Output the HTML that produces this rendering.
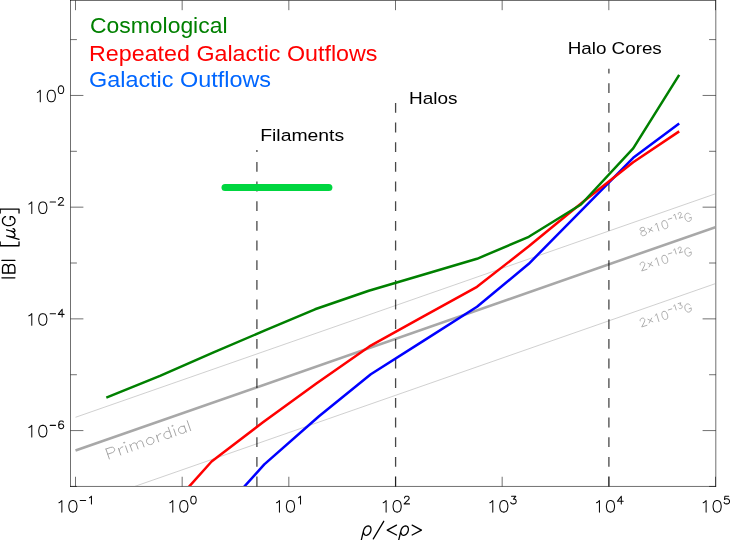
<!DOCTYPE html>
<html><head><meta charset="utf-8"><title>B vs density</title>
<style>
html,body{margin:0;padding:0;background:#fff;}
body{width:730px;height:540px;overflow:hidden;font-family:"Liberation Sans",sans-serif;}
svg{display:block;}
svg text{font-family:"Liberation Sans",sans-serif;}
</style></head><body>
<svg width="730" height="540" viewBox="0 0 730 540" style="will-change:transform">
<title>Magnetic field strength |B| versus overdensity for cosmological, repeated galactic outflow and galactic outflow models</title>
<rect x="0" y="0" width="730" height="540" fill="#fff"/>
<g stroke="#000" stroke-opacity="0.56" stroke-width="1" fill="none" shape-rendering="auto">
<path d="M70.50,0.00 V486.95"/>
<path d="M715.80,0.00 V486.95"/>
<path d="M70.00,0.50 H716.00"/>
<path d="M70.00,486.45 H716.00"/>
<path d="M75.50,486.45 v-9.7"/>
<path d="M75.50,0.50 v9.7"/>
<path d="M182.17,486.45 v-9.7"/>
<path d="M182.17,0.50 v9.7"/>
<path d="M288.84,486.45 v-9.7"/>
<path d="M288.84,0.50 v9.7"/>
<path d="M395.50,486.45 v-9.7"/>
<path d="M395.50,0.50 v9.7"/>
<path d="M502.17,486.45 v-9.7"/>
<path d="M502.17,0.50 v9.7"/>
<path d="M608.84,486.45 v-9.7"/>
<path d="M608.84,0.50 v9.7"/>
<path d="M715.50,486.45 v-9.7"/>
<path d="M715.50,0.50 v9.7"/>
<path d="M70.50,486.45 h6.40"/>
<path d="M715.80,486.45 h-6.70"/>
<path d="M70.50,430.58 h12.90"/>
<path d="M715.80,430.58 h-13.20"/>
<path d="M70.50,374.72 h6.40"/>
<path d="M715.80,374.72 h-6.70"/>
<path d="M70.50,318.87 h12.90"/>
<path d="M715.80,318.87 h-13.20"/>
<path d="M70.50,263.01 h6.40"/>
<path d="M715.80,263.01 h-6.70"/>
<path d="M70.50,207.16 h12.90"/>
<path d="M715.80,207.16 h-13.20"/>
<path d="M70.50,151.31 h6.40"/>
<path d="M715.80,151.31 h-6.70"/>
<path d="M70.50,95.45 h12.90"/>
<path d="M715.80,95.45 h-13.20"/>
<path d="M70.50,39.60 h6.40"/>
<path d="M715.80,39.60 h-6.70"/>
</g>
<path d="M58.96,502.78 L60.12,502.24 L61.86,500.59 L61.86,512.10 M72.30,500.59 L70.56,501.14 L69.40,502.78 L68.82,505.52 L68.82,507.17 L69.40,509.91 L70.56,511.55 L72.30,512.10 L73.46,512.10 L75.20,511.55 L76.36,509.91 L76.94,507.17 L76.94,505.52 L76.36,502.78 L75.20,501.14 L73.46,500.59 L72.30,500.59 M80.23,500.59 L85.64,500.59 M89.51,497.67 L90.28,497.30 L91.45,496.20 L91.45,503.88" fill="none" stroke="#0a0a0a" stroke-width="1.05" stroke-linecap="round" stroke-linejoin="round"/>
<path d="M169.88,502.78 L171.04,502.24 L172.78,500.59 L172.78,512.10 M183.22,500.59 L181.48,501.14 L180.32,502.78 L179.74,505.52 L179.74,507.17 L180.32,509.91 L181.48,511.55 L183.22,512.10 L184.38,512.10 L186.12,511.55 L187.28,509.91 L187.86,507.17 L187.86,505.52 L187.28,502.78 L186.12,501.14 L184.38,500.59 L183.22,500.59 M193.08,496.20 L191.92,496.57 L191.15,497.67 L190.76,499.49 L190.76,500.59 L191.15,502.42 L191.92,503.51 L193.08,503.88 L193.86,503.88 L195.02,503.51 L195.79,502.42 L196.18,500.59 L196.18,499.49 L195.79,497.67 L195.02,496.57 L193.86,496.20 L193.08,496.20" fill="none" stroke="#0a0a0a" stroke-width="1.05" stroke-linecap="round" stroke-linejoin="round"/>
<path d="M276.55,502.78 L277.71,502.24 L279.45,500.59 L279.45,512.10 M289.89,500.59 L288.15,501.14 L286.99,502.78 L286.41,505.52 L286.41,507.17 L286.99,509.91 L288.15,511.55 L289.89,512.10 L291.05,512.10 L292.79,511.55 L293.95,509.91 L294.53,507.17 L294.53,505.52 L293.95,502.78 L292.79,501.14 L291.05,500.59 L289.89,500.59 M298.59,497.67 L299.36,497.30 L300.52,496.20 L300.52,503.88" fill="none" stroke="#0a0a0a" stroke-width="1.05" stroke-linecap="round" stroke-linejoin="round"/>
<path d="M383.22,502.78 L384.38,502.24 L386.12,500.59 L386.12,512.10 M396.56,500.59 L394.82,501.14 L393.66,502.78 L393.08,505.52 L393.08,507.17 L393.66,509.91 L394.82,511.55 L396.56,512.10 L397.72,512.10 L399.46,511.55 L400.62,509.91 L401.20,507.17 L401.20,505.52 L400.62,502.78 L399.46,501.14 L397.72,500.59 L396.56,500.59 M404.48,498.03 L404.48,497.67 L404.87,496.94 L405.26,496.57 L406.03,496.20 L407.58,496.20 L408.35,496.57 L408.74,496.94 L409.13,497.67 L409.13,498.40 L408.74,499.13 L407.96,500.22 L404.10,503.88 L409.51,503.88" fill="none" stroke="#0a0a0a" stroke-width="1.05" stroke-linecap="round" stroke-linejoin="round"/>
<path d="M489.88,502.78 L491.04,502.24 L492.78,500.59 L492.78,512.10 M503.22,500.59 L501.48,501.14 L500.32,502.78 L499.74,505.52 L499.74,507.17 L500.32,509.91 L501.48,511.55 L503.22,512.10 L504.38,512.10 L506.12,511.55 L507.28,509.91 L507.86,507.17 L507.86,505.52 L507.28,502.78 L506.12,501.14 L504.38,500.59 L503.22,500.59 M511.54,496.20 L515.79,496.20 L513.47,499.13 L514.63,499.13 L515.41,499.49 L515.79,499.86 L516.18,500.96 L516.18,501.69 L515.79,502.78 L515.02,503.51 L513.86,503.88 L512.70,503.88 L511.54,503.51 L511.15,503.15 L510.76,502.42" fill="none" stroke="#0a0a0a" stroke-width="1.05" stroke-linecap="round" stroke-linejoin="round"/>
<path d="M596.55,502.78 L597.71,502.24 L599.45,500.59 L599.45,512.10 M609.89,500.59 L608.15,501.14 L606.99,502.78 L606.41,505.52 L606.41,507.17 L606.99,509.91 L608.15,511.55 L609.89,512.10 L611.05,512.10 L612.79,511.55 L613.95,509.91 L614.53,507.17 L614.53,505.52 L613.95,502.78 L612.79,501.14 L611.05,500.59 L609.89,500.59 M621.30,496.20 L617.43,501.32 L623.23,501.32 M621.30,496.20 L621.30,503.88" fill="none" stroke="#0a0a0a" stroke-width="1.05" stroke-linecap="round" stroke-linejoin="round"/>
<path d="M703.22,502.78 L704.38,502.24 L706.12,500.59 L706.12,512.10 M716.56,500.59 L714.82,501.14 L713.66,502.78 L713.08,505.52 L713.08,507.17 L713.66,509.91 L714.82,511.55 L716.56,512.10 L717.72,512.10 L719.46,511.55 L720.62,509.91 L721.20,507.17 L721.20,505.52 L720.62,502.78 L719.46,501.14 L717.72,500.59 L716.56,500.59 M728.74,496.20 L724.87,496.20 L724.48,499.49 L724.87,499.13 L726.03,498.76 L727.19,498.76 L728.35,499.13 L729.13,499.86 L729.51,500.96 L729.51,501.69 L729.13,502.78 L728.35,503.51 L727.19,503.88 L726.03,503.88 L724.87,503.51 L724.48,503.15 L724.10,502.42" fill="none" stroke="#0a0a0a" stroke-width="1.05" stroke-linecap="round" stroke-linejoin="round"/>
<path d="M37.39,92.43 L38.55,91.89 L40.29,90.24 L40.29,101.75 M50.73,90.24 L48.99,90.79 L47.83,92.43 L47.25,95.17 L47.25,96.82 L47.83,99.56 L48.99,101.20 L50.73,101.75 L51.89,101.75 L53.63,101.20 L54.79,99.56 L55.37,96.82 L55.37,95.17 L54.79,92.43 L53.63,90.79 L51.89,90.24 L50.73,90.24 M60.59,85.85 L59.43,86.22 L58.66,87.32 L58.27,89.14 L58.27,90.24 L58.66,92.07 L59.43,93.16 L60.59,93.53 L61.37,93.53 L62.53,93.16 L63.30,92.07 L63.69,90.24 L63.69,89.14 L63.30,87.32 L62.53,86.22 L61.37,85.85 L60.59,85.85" fill="none" stroke="#0a0a0a" stroke-width="1.05" stroke-linecap="round" stroke-linejoin="round"/>
<path d="M28.88,204.14 L30.04,203.60 L31.78,201.95 L31.78,213.46 M42.22,201.95 L40.48,202.50 L39.32,204.14 L38.74,206.88 L38.74,208.53 L39.32,211.27 L40.48,212.91 L42.22,213.46 L43.38,213.46 L45.12,212.91 L46.28,211.27 L46.86,208.53 L46.86,206.88 L46.28,204.14 L45.12,202.50 L43.38,201.95 L42.22,201.95 M50.15,201.95 L55.57,201.95 M58.66,199.39 L58.66,199.03 L59.05,198.30 L59.43,197.93 L60.21,197.56 L61.76,197.56 L62.53,197.93 L62.92,198.30 L63.30,199.03 L63.30,199.76 L62.92,200.49 L62.14,201.58 L58.27,205.24 L63.69,205.24" fill="none" stroke="#0a0a0a" stroke-width="1.05" stroke-linecap="round" stroke-linejoin="round"/>
<path d="M28.88,315.85 L30.04,315.31 L31.78,313.66 L31.78,325.17 M42.22,313.66 L40.48,314.21 L39.32,315.85 L38.74,318.59 L38.74,320.24 L39.32,322.98 L40.48,324.62 L42.22,325.17 L43.38,325.17 L45.12,324.62 L46.28,322.98 L46.86,320.24 L46.86,318.59 L46.28,315.85 L45.12,314.21 L43.38,313.66 L42.22,313.66 M50.15,313.66 L55.57,313.66 M62.14,309.27 L58.27,314.39 L64.08,314.39 M62.14,309.27 L62.14,316.95" fill="none" stroke="#0a0a0a" stroke-width="1.05" stroke-linecap="round" stroke-linejoin="round"/>
<path d="M28.88,427.56 L30.04,427.02 L31.78,425.37 L31.78,436.88 M42.22,425.37 L40.48,425.92 L39.32,427.56 L38.74,430.30 L38.74,431.95 L39.32,434.69 L40.48,436.33 L42.22,436.88 L43.38,436.88 L45.12,436.33 L46.28,434.69 L46.86,431.95 L46.86,430.30 L46.28,427.56 L45.12,425.92 L43.38,425.37 L42.22,425.37 M50.15,425.37 L55.57,425.37 M63.30,422.08 L62.92,421.35 L61.76,420.98 L60.98,420.98 L59.82,421.35 L59.05,422.45 L58.66,424.27 L58.66,426.10 L59.05,427.56 L59.82,428.29 L60.98,428.66 L61.37,428.66 L62.53,428.29 L63.30,427.56 L63.69,426.47 L63.69,426.10 L63.30,425.00 L62.53,424.27 L61.37,423.91 L60.98,423.91 L59.82,424.27 L59.05,425.00 L58.66,426.10" fill="none" stroke="#0a0a0a" stroke-width="1.05" stroke-linecap="round" stroke-linejoin="round"/>
<path d="M361.35,539.93 L363.56,530.62 L363.94,529.39 L364.54,528.26 L365.33,527.28 L366.25,526.53 L367.23,526.06 L368.21,525.90 L369.12,526.06 L369.90,526.53 L370.50,527.28 L370.88,528.26 L371.00,529.39 L370.87,530.62 L370.48,531.84 L369.88,532.97 L369.09,533.95 L368.17,534.70 L367.19,535.17 L366.21,535.33 L365.30,535.17 L364.52,534.70 L363.92,533.95 L363.55,532.97 L363.42,531.84" fill="none" stroke="#000" stroke-width="1.3" stroke-linecap="round" stroke-linejoin="round"/>
<path d="M383.73,521.30 L373.29,538.84" fill="none" stroke="#000" stroke-width="1.3" stroke-linecap="round" stroke-linejoin="round"/>
<path d="M396.49,525.14 L387.21,530.07 L396.49,535.00" fill="none" stroke="#000" stroke-width="1.3" stroke-linecap="round" stroke-linejoin="round"/>
<path d="M398.75,539.93 L400.96,530.62 L401.34,529.39 L401.94,528.26 L402.73,527.28 L403.65,526.53 L404.63,526.06 L405.61,525.90 L406.52,526.06 L407.30,526.53 L407.90,527.28 L408.28,528.26 L408.40,529.39 L408.27,530.62 L407.88,531.84 L407.28,532.97 L406.49,533.95 L405.57,534.70 L404.59,535.17 L403.61,535.33 L402.70,535.17 L401.92,534.70 L401.32,533.95 L400.95,532.97 L400.82,531.84" fill="none" stroke="#000" stroke-width="1.3" stroke-linecap="round" stroke-linejoin="round"/>
<path d="M412.17,525.14 L421.45,530.07 L412.17,535.00" fill="none" stroke="#000" stroke-width="1.3" stroke-linecap="round" stroke-linejoin="round"/>
<path d="M1.92,277.80 L14.90,277.80 M2.51,273.00 L14.90,273.00 M2.51,273.00 L2.51,267.60 L3.10,265.80 L3.69,265.20 L4.87,264.60 L6.05,264.60 L7.23,265.20 L7.82,265.80 L8.41,267.60 M8.41,273.00 L8.41,267.60 L9.00,265.80 L9.59,265.20 L10.77,264.60 L12.54,264.60 L13.72,265.20 L14.31,265.80 L14.90,267.60 L14.90,273.00 M1.92,260.40 L14.90,260.40 M0.15,241.80 L0.15,245.76 L19.03,245.76 L19.03,241.80 M6.64,235.80 L19.03,239.40 M9.00,236.40 L11.95,237.00 L13.72,237.00 L14.90,235.80 L14.90,234.60 L14.31,233.40 L13.13,232.20 L10.77,231.00 M6.64,229.80 L10.77,231.00 L13.13,231.60 L14.31,231.60 L14.90,231.00 L14.90,230.40 L14.31,229.20 L13.13,228.60 M5.46,216.60 L4.28,217.20 L3.10,218.40 L2.51,219.60 L2.51,222.00 L3.10,223.20 L4.28,224.40 L5.46,225.00 L7.23,225.60 L10.18,225.60 L11.95,225.00 L13.13,224.40 L14.31,223.20 L14.90,222.00 L14.90,219.60 L14.31,218.40 L13.13,217.20 L11.95,216.60 L10.18,216.60 M10.18,219.60 L10.18,216.60 M0.15,213.00 L0.15,209.04 L19.03,209.04 L19.03,213.00" fill="none" stroke="#000" stroke-width="1.3" stroke-linecap="round" stroke-linejoin="round"/>
<clipPath id="c"><rect x="71.00" y="1.00" width="644.00" height="484.95"/></clipPath>
<g clip-path="url(#c)" fill="none">
<path d="M75.50,417.30 L715.50,193.78" stroke="#c4c4c4" stroke-width="0.8"/>
<path d="M75.50,450.60 L715.50,227.08" stroke="#a8a8a8" stroke-width="2.6"/>
<path d="M75.50,507.10 L715.50,283.58" stroke="#c4c4c4" stroke-width="0.8"/>
</g>
<path d="M105.92,449.03 L109.37,458.94 M105.92,449.03 L110.79,447.33 L112.58,447.24 L113.29,447.52 L114.16,448.27 L114.66,449.69 L114.44,450.82 L114.06,451.49 L112.60,452.52 L107.72,454.22 M118.45,448.37 L120.75,454.98 M119.44,451.20 L119.49,449.60 L120.24,448.28 L121.16,447.43 L122.79,446.86 M123.80,442.80 L124.51,443.08 L124.89,442.42 L124.18,442.14 L123.80,442.80 M125.50,445.92 L127.80,452.53 M129.83,444.41 L132.14,451.02 M130.49,446.29 L131.62,444.31 L132.54,443.46 L134.17,442.90 L135.42,442.99 L136.45,444.22 L138.10,448.94 M136.45,444.22 L137.59,442.24 L138.51,441.39 L140.13,440.82 L141.38,440.91 L142.42,442.14 L144.06,446.86 M148.26,437.99 L147.34,438.84 L146.59,440.16 L146.54,441.76 L146.87,442.71 L147.90,443.94 L149.32,444.50 L150.57,444.60 L152.19,444.03 L153.11,443.18 L153.87,441.86 L153.92,440.26 L153.59,439.31 L152.55,438.08 L151.14,437.52 L149.89,437.42 L148.26,437.99 M156.39,435.16 L158.70,441.77 M157.38,437.99 L157.43,436.38 L158.19,435.06 L159.11,434.21 L160.73,433.65 M168.25,427.32 L171.71,437.24 M169.90,432.04 L168.48,431.48 L167.24,431.38 L165.61,431.95 L164.69,432.80 L163.94,434.12 L163.89,435.72 L164.22,436.67 L165.25,437.90 L166.66,438.46 L167.91,438.56 L169.54,437.99 L170.46,437.14 L171.21,435.82 M172.05,426.00 L172.75,426.28 L173.13,425.62 L172.43,425.34 L172.05,426.00 M173.74,429.12 L176.04,435.73 M184.04,425.53 L186.34,432.14 M184.53,426.95 L183.12,426.38 L181.87,426.28 L180.25,426.85 L179.33,427.70 L178.57,429.02 L178.52,430.63 L178.85,431.57 L179.89,432.80 L181.30,433.37 L182.55,433.46 L184.17,432.89 L185.09,432.05 L185.85,430.72 M187.23,420.71 L190.68,430.63" fill="none" stroke="#a6a6a6" stroke-width="1.0" stroke-linecap="round" stroke-linejoin="round"/>
<path d="M641.13,227.85 L640.12,228.57 L639.98,229.43 L640.22,230.18 L640.83,230.80 L641.69,230.94 L643.31,230.84 L644.54,230.86 L645.53,231.37 L646.13,231.99 L646.49,233.11 L646.35,233.97 L646.09,234.46 L645.09,235.19 L643.59,235.66 L642.35,235.64 L641.86,235.38 L641.25,234.76 L640.90,233.64 L641.04,232.78 L641.55,231.80 L642.56,231.08 L643.94,230.23 L644.57,229.62 L644.71,228.76 L644.47,228.02 L643.86,227.39 L642.62,227.37 L641.13,227.85 M649.10,232.28 L651.67,227.38 M652.84,231.10 L647.93,228.56 M655.06,225.09 L655.69,224.48 L656.46,223.01 L658.92,230.82 M663.19,220.89 L662.18,221.62 L661.79,222.97 L662.00,224.95 L662.35,226.06 L663.31,227.80 L664.41,228.68 L665.65,228.70 L666.40,228.47 L667.40,227.74 L667.80,226.39 L667.58,224.41 L667.23,223.30 L666.27,221.55 L665.17,220.67 L663.93,220.66 L663.19,220.89 M668.30,219.28 L671.79,218.18 M673.65,215.41 L674.07,215.00 L674.59,214.02 L676.23,219.23 M678.22,214.24 L678.14,213.99 L678.24,213.42 L678.41,213.09 L678.83,212.69 L679.82,212.37 L680.40,212.46 L680.73,212.63 L681.13,213.05 L681.29,213.54 L681.20,214.12 L680.93,215.02 L679.22,218.29 L682.71,217.19 M690.07,214.46 L689.47,213.83 L688.48,213.32 L687.62,213.19 L686.12,213.66 L685.49,214.27 L684.98,215.25 L684.84,216.11 L684.82,217.34 L685.40,219.20 L686.13,220.20 L686.74,220.83 L687.72,221.33 L688.59,221.47 L690.08,221.00 L690.71,220.39 L691.23,219.41 L691.36,218.55 L691.01,217.43 M689.14,218.02 L691.01,217.43" fill="none" stroke="#a6a6a6" stroke-width="0.9" stroke-linecap="round" stroke-linejoin="round"/>
<path d="M640.22,264.88 L640.10,264.51 L640.24,263.64 L640.50,263.15 L641.13,262.55 L642.62,262.07 L643.49,262.21 L643.98,262.46 L644.59,263.09 L644.82,263.83 L644.68,264.70 L644.29,266.05 L641.72,270.95 L646.96,269.30 M649.10,266.98 L651.67,262.08 M652.84,265.80 L647.93,263.26 M655.06,259.79 L655.69,259.18 L656.46,257.71 L658.92,265.52 M663.19,255.59 L662.18,256.32 L661.79,257.67 L662.00,259.65 L662.35,260.76 L663.31,262.50 L664.41,263.38 L665.65,263.40 L666.40,263.17 L667.40,262.44 L667.80,261.09 L667.58,259.11 L667.23,258.00 L666.27,256.25 L665.17,255.37 L663.93,255.36 L663.19,255.59 M668.30,253.98 L671.79,252.88 M673.65,250.11 L674.07,249.70 L674.59,248.72 L676.23,253.93 M678.22,248.94 L678.14,248.69 L678.24,248.12 L678.41,247.79 L678.83,247.39 L679.82,247.07 L680.40,247.16 L680.73,247.33 L681.13,247.75 L681.29,248.24 L681.20,248.82 L680.93,249.72 L679.22,252.99 L682.71,251.89 M690.07,249.16 L689.47,248.53 L688.48,248.02 L687.62,247.89 L686.12,248.36 L685.49,248.97 L684.98,249.95 L684.84,250.81 L684.82,252.04 L685.40,253.90 L686.13,254.90 L686.74,255.53 L687.72,256.03 L688.59,256.17 L690.08,255.70 L690.71,255.09 L691.23,254.11 L691.36,253.25 L691.01,252.13 M689.14,252.72 L691.01,252.13" fill="none" stroke="#a6a6a6" stroke-width="0.9" stroke-linecap="round" stroke-linejoin="round"/>
<path d="M640.22,320.88 L640.10,320.51 L640.24,319.64 L640.50,319.15 L641.13,318.55 L642.62,318.07 L643.49,318.21 L643.98,318.46 L644.59,319.09 L644.82,319.83 L644.68,320.70 L644.29,322.05 L641.72,326.95 L646.96,325.30 M649.10,322.98 L651.67,318.08 M652.84,321.80 L647.93,319.26 M655.06,315.79 L655.69,315.18 L656.46,313.71 L658.92,321.52 M663.19,311.59 L662.18,312.32 L661.79,313.67 L662.00,315.65 L662.35,316.76 L663.31,318.50 L664.41,319.38 L665.65,319.40 L666.40,319.17 L667.40,318.44 L667.80,317.09 L667.58,315.11 L667.23,314.00 L666.27,312.25 L665.17,311.37 L663.93,311.36 L663.19,311.59 M668.30,309.98 L671.79,308.88 M673.65,306.11 L674.07,305.70 L674.59,304.72 L676.23,309.93 M678.08,303.62 L680.82,302.76 L679.95,305.21 L680.70,304.98 L681.28,305.07 L681.60,305.24 L682.09,305.90 L682.24,306.40 L682.23,307.22 L681.89,307.88 L681.22,308.36 L680.47,308.60 L679.64,308.58 L679.32,308.41 L678.91,308.00 M690.07,305.16 L689.47,304.53 L688.48,304.02 L687.62,303.89 L686.12,304.36 L685.49,304.97 L684.98,305.95 L684.84,306.81 L684.82,308.04 L685.40,309.90 L686.13,310.90 L686.74,311.53 L687.72,312.03 L688.59,312.17 L690.08,311.70 L690.71,311.09 L691.23,310.11 L691.36,309.25 L691.01,308.13 M689.14,308.72 L691.01,308.13" fill="none" stroke="#a6a6a6" stroke-width="0.9" stroke-linecap="round" stroke-linejoin="round"/>
<path d="M256.90,486.45 V150.00" stroke="#000" stroke-opacity="0.72" stroke-width="1.3" stroke-dasharray="9.835 9.835" fill="none"/>
<path d="M395.60,486.45 V103.00" stroke="#000" stroke-opacity="0.72" stroke-width="1.3" stroke-dasharray="9.835 9.835" fill="none"/>
<path d="M608.90,486.45 V68.80" stroke="#000" stroke-opacity="0.72" stroke-width="1.3" stroke-dasharray="9.835 9.835" fill="none"/>
<path d="M225,187.5 H328.9" stroke="#00d640" stroke-width="7" stroke-linecap="round" fill="none"/>
<g clip-path="url(#c)" fill="none" stroke-width="2.5" stroke-linejoin="round">
<path d="M240.2,491.2 L244.5,486.4 L264.3,464.4 L319.0,416.2 L370.8,374.2 L423.0,341.1 L477.0,306.8 L528.8,263.8 L581.0,210.8 L633.2,157.8 L679.2,123.4" stroke="#0000ff"/>
<path d="M185.0,491.2 L189.3,486.4 L211.6,461.5 L263.0,422.3 L316.0,383.7 L369.4,346.4 L423.0,316.7 L477.0,286.8 L528.8,246.3 L581.0,203.5 L633.2,162.2 L679.2,131.4" stroke="#ff0000"/>
<path d="M106.3,397.7 L160.0,375.8 L213.0,352.6 L265.0,330.4 L315.0,309.3 L368.8,290.8 L423.0,274.8 L477.0,258.8 L528.8,236.8 L581.0,204.5 L633.2,148.3 L679.2,74.8" stroke="#008000"/>
</g>
<mask id="tm" maskUnits="userSpaceOnUse" x="0" y="0" width="730" height="540"><rect x="0" y="0" width="730" height="540" fill="#fff"/></mask><g mask="url(#tm)">
<text x="90.0" y="32.9" font-size="22" textLength="137.5" lengthAdjust="spacingAndGlyphs" fill="#008000">Cosmological</text>
<text x="89.0" y="60.5" font-size="22" textLength="288.5" lengthAdjust="spacingAndGlyphs" fill="#ff0000">Repeated Galactic Outflows</text>
<text x="89.0" y="87.3" font-size="22" textLength="182.0" lengthAdjust="spacingAndGlyphs" fill="#0066ff">Galactic Outflows</text>
<text x="260.2" y="141.4" font-size="17.2" textLength="84.0" lengthAdjust="spacingAndGlyphs" fill="#000">Filaments</text>
<text x="409.0" y="103.6" font-size="17.2" textLength="48.5" lengthAdjust="spacingAndGlyphs" fill="#000">Halos</text>
<text x="567.7" y="54.2" font-size="17.2" textLength="94.1" lengthAdjust="spacingAndGlyphs" fill="#000">Halo Cores</text>
</g>
</svg>
</body></html>
